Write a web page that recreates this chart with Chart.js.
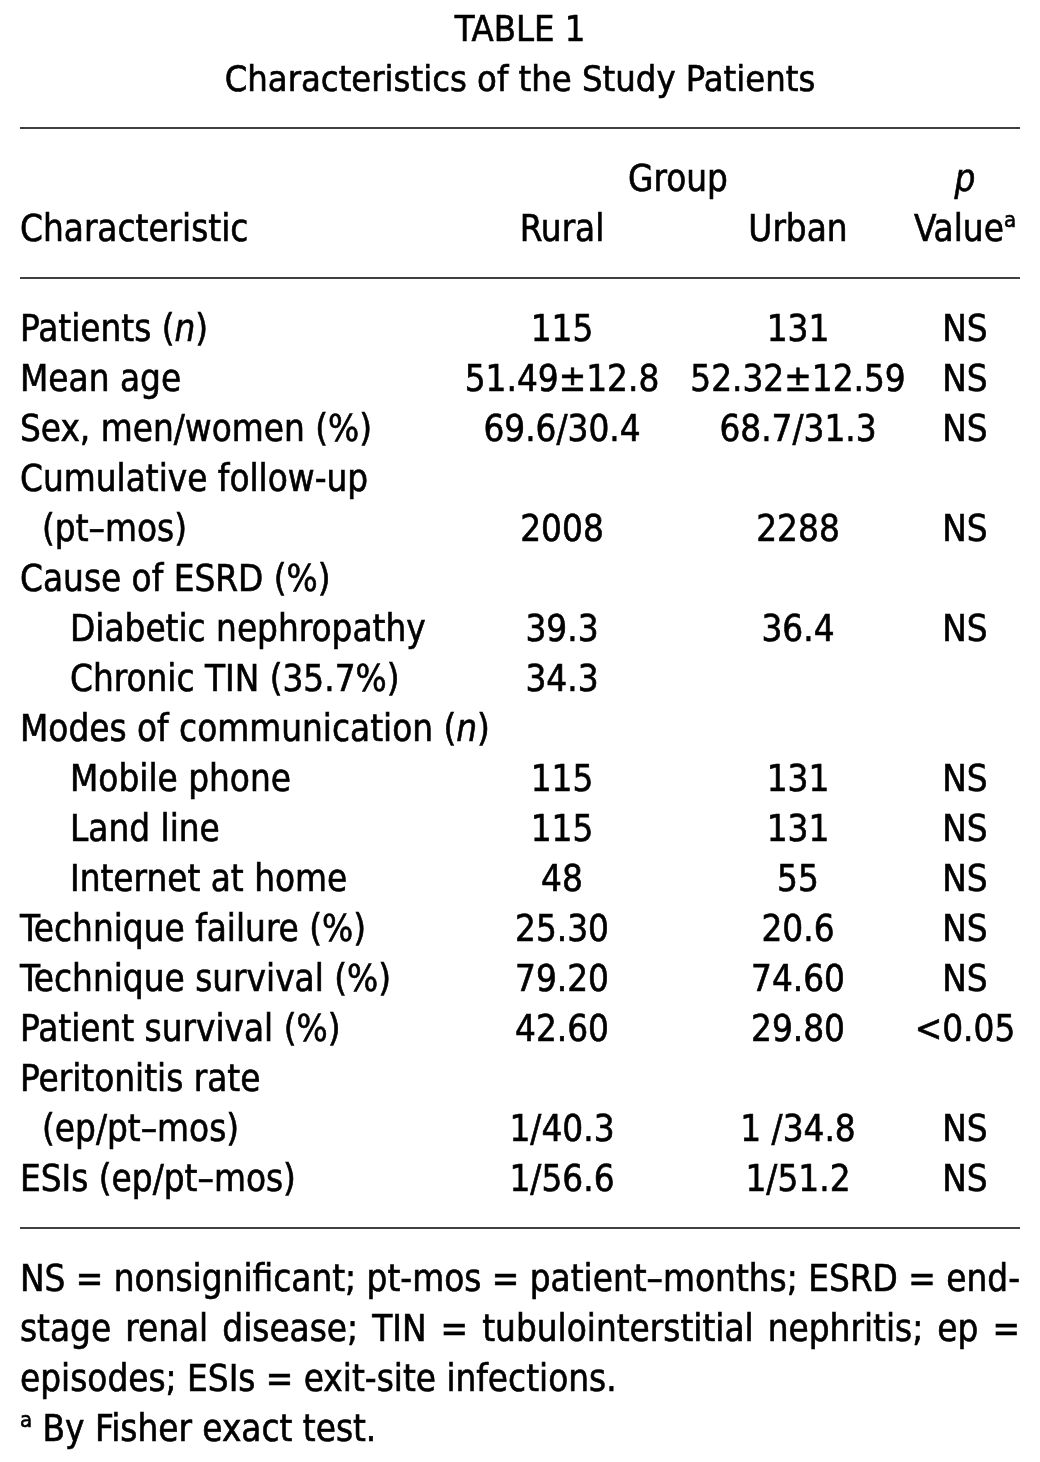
<!DOCTYPE html>
<html>
<head>
<meta charset="utf-8">
<script src="https://cdn.jsdelivr.net/npm/chart.js@4/dist/chart.umd.min.js"></script>
<style>
    html, body { margin: 0; padding: 0; background: #ffffff; }
    #wrap { width: 1040px; height: 1462px; }
</style>
</head>
<body>
<div id="wrap"><canvas id="tableChart" width="1040" height="1462"></canvas></div>
<script>
// table content
var rowLabels = [
    'Patients (*n*)',
    'Mean age',
    'Sex, men/women (%)',
    'Cumulative follow-up',
    '(pt\u2013mos)',
    'Cause of ESRD (%)',
    'Diabetic nephropathy',
    'Chronic TIN (35.7%)',
    'Modes of communication (*n*)',
    'Mobile phone',
    'Land line',
    'Internet at home',
    'Technique failure (%)',
    'Technique survival (%)',
    'Patient survival (%)',
    'Peritonitis rate',
    '(ep/pt\u2013mos)',
    'ESIs (ep/pt\u2013mos)'
];
var rowIndent = [0, 0, 0, 0, 1, 0, 2, 2, 0, 2, 2, 2, 0, 0, 0, 0, 1, 0];
var ruralValues = ['115', '51.49\u00b112.8', '69.6/30.4', '', '2008', '', '39.3', '34.3', '',
    '115', '115', '48', '25.30', '79.20', '42.60', '', '1/40.3', '1/56.6'];
var urbanValues = ['131', '52.32\u00b112.59', '68.7/31.3', '', '2288', '', '36.4', '', '',
    '131', '131', '55', '20.6', '74.60', '29.80', '', '1 /34.8', '1/51.2'];
var pValues = ['NS', 'NS', 'NS', '', 'NS', '', 'NS', '', '',
    'NS', 'NS', 'NS', 'NS', 'NS', '<0.05', '', 'NS', 'NS'];

var titleLines = ['TABLE 1', 'Characteristics of the Study Patients'];
var groupHeader = 'Group';
var columnHeaders = ['Characteristic', 'Rural', 'Urban', '*p*'];
var valueHeader = 'Value^a^';
var footnoteLines = [
    'NS = nonsignificant; pt-mos = patient\u2013months; ESRD = end-',
    'stage renal disease; TIN = tubulointerstitial nephritis; ep =',
    'episodes; ESIs = exit-site infections.',
    '^a^ By Fisher exact test.'
];

// layout (x in page px, y in row units)
var FONT = "'DejaVu Sans Condensed', 'Liberation Sans Narrow', 'Roboto Condensed', sans-serif";
var FONT_SIZE = 36.5;
var TITLE_SIZE = 36;
var LEFT = 20, RIGHT = 1020;
var INDENT_X = [20, 42, 70];
var RURAL_X = 562, URBAN_X = 798, P_X = 965, GROUP_X = 678, MID_X = 520;
var ROW_PX = 50, FIRST_ROW_PX = 328;

function cellPoints(values, x) {
    var pts = [];
    values.forEach(function(v, i) {
        if (v) pts.push({ x: x, y: i, text: v });
    });
    return pts;
}

function rule(row) {
    return {
        type: 'line',
        data: [{ x: LEFT, y: row }, { x: RIGHT, y: row }],
        borderColor: '#000000',
        borderWidth: 1.5,
        pointRadius: 0,
        showLine: true
    };
}

function textSet(points, align, opts) {
    opts = opts || {};
    return {
        data: points,
        isText: true,
        align: align,
        size: opts.size || FONT_SIZE,
        justify: opts.justify || false,
        pointRadius: 0,
        showLine: false
    };
}

var labelPoints = rowLabels.map(function(t, i) {
    return { x: INDENT_X[rowIndent[i]], y: i, text: t };
});

var datasets = [
    textSet([{ x: MID_X, y: -6, text: titleLines[0] }, { x: MID_X, y: -5, text: titleLines[1] }],
        'center', { size: TITLE_SIZE }),
    rule(-4),
    textSet([{ x: GROUP_X, y: -3, text: groupHeader }, { x: P_X, y: -3, text: columnHeaders[3] }], 'center'),
    textSet([{ x: LEFT, y: -2, text: columnHeaders[0] }], 'left'),
    textSet([{ x: RURAL_X, y: -2, text: columnHeaders[1] }, { x: URBAN_X, y: -2, text: columnHeaders[2] },
        { x: P_X, y: -2, text: valueHeader }], 'center'),
    rule(-1),
    textSet(labelPoints, 'left'),
    textSet(cellPoints(ruralValues, RURAL_X), 'center'),
    textSet(cellPoints(urbanValues, URBAN_X), 'center'),
    textSet(cellPoints(pValues, P_X), 'center'),
    rule(18),
    textSet(footnoteLines.slice(0, 2).map(function(t, i) { return { x: LEFT, y: 19 + i, text: t }; }),
        'left', { justify: true }),
    textSet(footnoteLines.slice(2).map(function(t, i) { return { x: LEFT, y: 21 + i, text: t }; }), 'left')
];

// split "*italic*" and "^sup^" markup into runs
function parseRuns(str) {
    var runs = [];
    var re = /(\*[^*]+\*|\^[^^]+\^)/g;
    var last = 0, m;
    while ((m = re.exec(str)) !== null) {
        if (m.index > last) runs.push({ t: str.slice(last, m.index) });
        var inner = m[0].slice(1, -1);
        if (m[0][0] === '*') runs.push({ t: inner, italic: true });
        else runs.push({ t: inner, sup: true });
        last = re.lastIndex;
    }
    if (last < str.length) runs.push({ t: str.slice(last) });
    return runs;
}

function runFont(run, size) {
    var s = run.sup ? Math.round(size * 0.6) : size;
    return (run.italic ? 'italic ' : '') + s + 'px ' + FONT;
}

function runsWidth(ctx, runs, size) {
    var w = 0;
    runs.forEach(function(r) {
        ctx.font = runFont(r, size);
        w += ctx.measureText(r.t).width;
    });
    return w;
}

function drawRuns(ctx, runs, x, y, size) {
    runs.forEach(function(r) {
        var yy = r.sup ? y - size * 0.4 : y;
        ctx.font = runFont(r, size);
        ctx.fillText(r.t, x, yy);
        ctx.strokeText(r.t, x, yy);
        x += ctx.measureText(r.t).width;
    });
}

var tableText = {
    id: 'tableText',
    afterDatasetsDraw: function(chart) {
        var ctx = chart.ctx;
        ctx.save();
        ctx.fillStyle = '#000000';
        ctx.strokeStyle = '#000000';
        ctx.lineWidth = 0.6;
        ctx.textBaseline = 'alphabetic';
        chart.data.datasets.forEach(function(ds, di) {
            if (!ds.isText) return;
            var meta = chart.getDatasetMeta(di);
            meta.data.forEach(function(el, j) {
                var text = ds.data[j].text;
                var base = el.y + ds.size * 0.36;
                if (ds.justify) {
                    var words = text.split(' ');
                    var widths = words.map(function(w) { return runsWidth(ctx, parseRuns(w), ds.size); });
                    var total = widths.reduce(function(a, b) { return a + b; }, 0);
                    var right = chart.scales.x.getPixelForValue(RIGHT);
                    var gap = (right - el.x - total) / (words.length - 1);
                    var x = el.x;
                    words.forEach(function(w, k) {
                        drawRuns(ctx, parseRuns(w), x, base, ds.size);
                        x += widths[k] + gap;
                    });
                    return;
                }
                var runs = parseRuns(text);
                var width = runsWidth(ctx, runs, ds.size);
                var startX = ds.align === 'center' ? el.x - width / 2 : el.x;
                drawRuns(ctx, runs, startX, base, ds.size);
            });
        });
        ctx.restore();
    }
};

var ctx = document.getElementById('tableChart').getContext('2d');
new Chart(ctx, {
    type: 'scatter',
    data: { datasets: datasets },
    options: {
        responsive: false,
        animation: false,
        events: [],
        layout: { padding: 0 },
        plugins: {
            legend: { display: false },
            tooltip: { enabled: false }
        },
        scales: {
            x: { type: 'linear', display: false, min: 0, max: 1040 },
            y: {
                type: 'linear',
                display: false,
                reverse: true,
                min: -FIRST_ROW_PX / ROW_PX,
                max: (1462 - FIRST_ROW_PX) / ROW_PX
            }
        }
    },
    plugins: [tableText]
});
</script>
</body>
</html>
